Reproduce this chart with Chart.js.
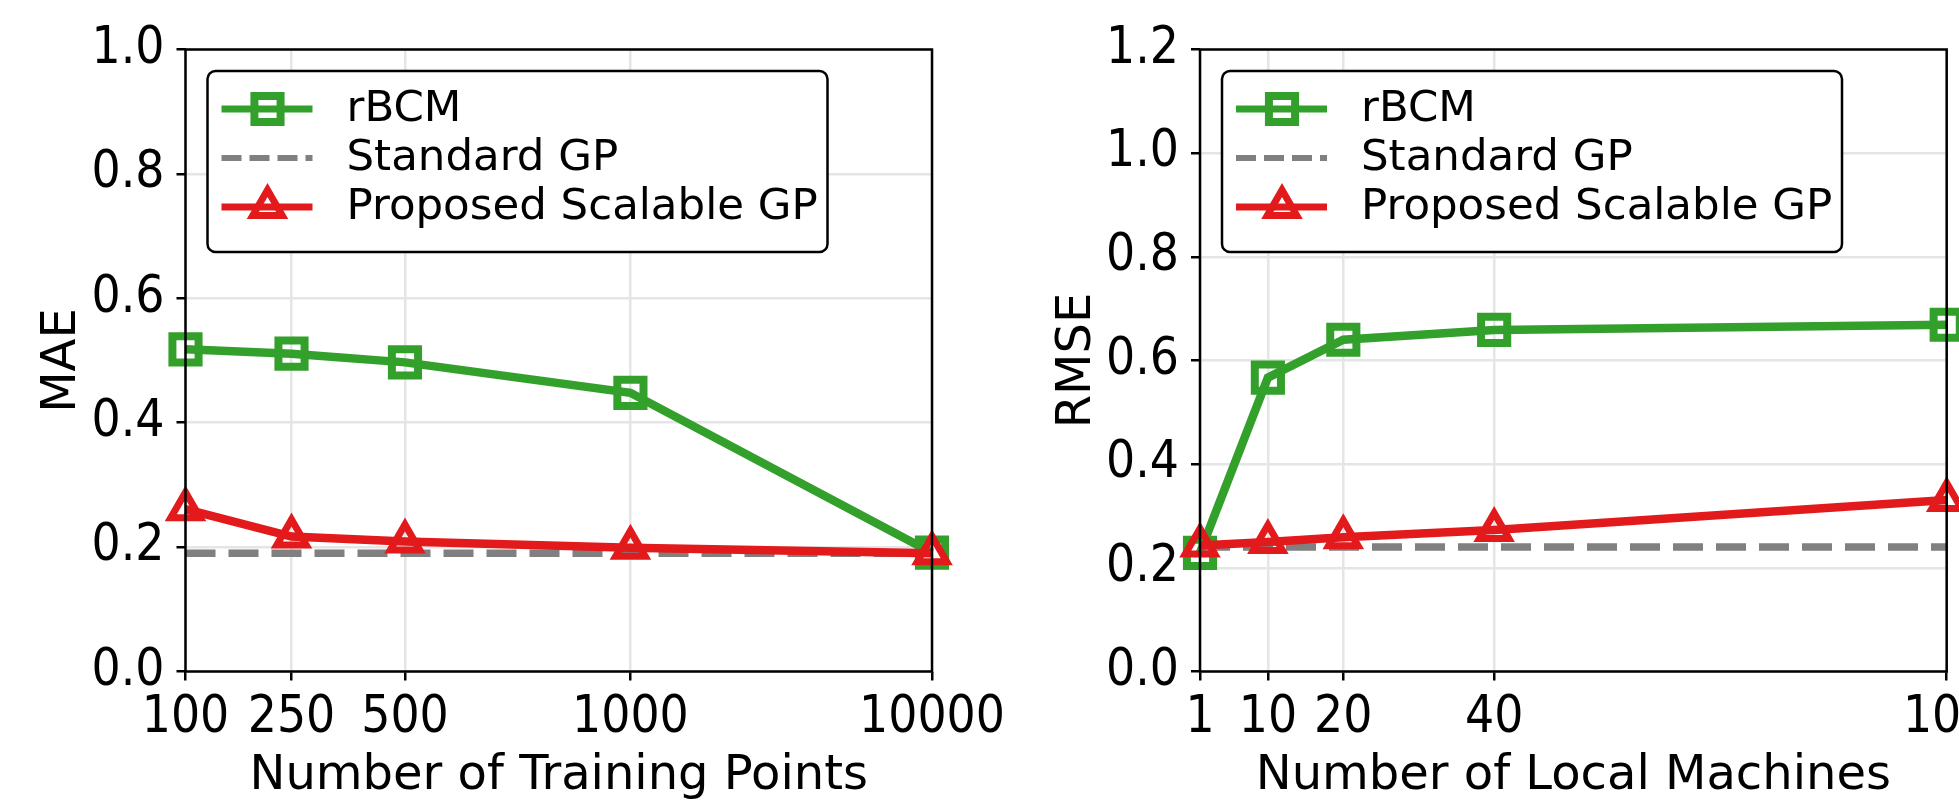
<!DOCTYPE html>
<html>
<head>
<meta charset="utf-8">
<script src="https://cdn.jsdelivr.net/npm/chart.js@4.4.0/dist/chart.umd.min.js"></script>
<style>
  html, body { margin: 0; padding: 0; background: #fff; overflow: hidden; width: 1959px; height: 810px; position: relative; }
  canvas { position: absolute; top: 0; }
  #mae { left: 0; }
  #rmse { left: 980px; }
</style>
</head>
<body>
<canvas id="mae" width="1100" height="810"></canvas>
<canvas id="rmse" width="1100" height="810"></canvas>
<script>
const seriesNames = ['rBCM', 'Standard GP', 'Proposed Scalable GP'];

// left panel: error vs training set size
const trainLabels = ['100', '250', '500', '1000', '10000'];
const trainX = [1, 1.71, 2.47, 3.98, 6];
const maeRbcm = [0.518, 0.511, 0.497, 0.448, 0.191];
const maeStandard = [0.19, 0.19, 0.19, 0.19, 0.19];
const maeProposed = [0.261, 0.217, 0.209, 0.199, 0.19];
const maeTicks = [0, 0.2, 0.4, 0.6, 0.8, 1.0];

// right panel: error vs number of machines
const machineLabels = ['1', '10', '20', '40', '100'];
const machineX = [1, 10, 20, 40, 100];
const rmseRbcm = [0.229, 0.567, 0.64, 0.659, 0.669];
const rmseStandard = [0.24, 0.24, 0.24, 0.24, 0.24];
const rmseProposed = [0.243, 0.25, 0.259, 0.273, 0.331];
const rmseTicks = [0, 0.2, 0.4, 0.6, 0.8, 1.0, 1.2];

const GREEN = '#33a02c';
const RED = '#e31a1c';
const GREY = '#808080';
const TICK_FONT = { family: "'DejaVu Sans Condensed', 'DejaVu Sans'", size: 51 };
const TITLE_FONT = { family: "'DejaVu Sans'", size: 48, lineHeight: 1.2 };

function makeDatasets(xs, a, b, c) {
    const pts = ys => ys.map((y, i) => ({ x: xs[i], y: y }));
    return [
        {
            label: seriesNames[0], data: pts(a), borderColor: GREEN, borderWidth: 8.5,
            pointStyle: 'rect', pointRadius: 18.5, pointBorderWidth: 8,
            pointBorderColor: GREEN, pointBackgroundColor: 'rgba(0,0,0,0)',
            order: 2, clip: false
        },
        {
            label: seriesNames[1], data: pts(b), borderColor: GREY, borderWidth: 7.5,
            borderDash: [30, 13], pointRadius: 0, order: 1, clip: false
        },
        {
            label: seriesNames[2], data: pts(c), borderColor: RED, borderWidth: 8.5,
            pointStyle: 'triangle', pointRadius: 17, pointBorderWidth: 7,
            pointBorderColor: RED, pointBackgroundColor: 'rgba(0,0,0,0)',
            order: 0, clip: false
        }
    ];
}

function drawMarker(ctx, style, x, y, r, lw, color) {
    ctx.save();
    ctx.strokeStyle = color;
    ctx.lineWidth = lw;
    ctx.beginPath();
    if (style === 'rect') {
        const h = r * Math.SQRT1_2;
        ctx.rect(x - h, y - h, 2 * h, 2 * h);
    } else {
        for (let k = 0; k < 3; k++) {
            const ang = k * 2 * Math.PI / 3;
            const px = x + Math.sin(ang) * r, py = y - Math.cos(ang) * r;
            if (k === 0) ctx.moveTo(px, py); else ctx.lineTo(px, py);
        }
        ctx.closePath();
    }
    ctx.stroke();
    ctx.restore();
}

// black box around the plot, drawn over the lines like matplotlib spines
const frame = {
    id: 'frame',
    afterDatasetsDraw(chart) {
        const { ctx, chartArea: a } = chart;
        ctx.save();
        ctx.strokeStyle = '#000';
        ctx.lineWidth = 2.5;
        ctx.strokeRect(a.left, a.top, a.right - a.left, a.bottom - a.top);
        ctx.restore();
    }
};

const boxLegend = {
    id: 'boxLegend',
    afterDraw(chart) {
        const { ctx, chartArea: a } = chart;
        const x0 = a.left + 22, y0 = a.top + 21.5;
        ctx.save();
        ctx.fillStyle = '#fff';
        ctx.strokeStyle = '#000';
        ctx.lineWidth = 2.5;
        ctx.beginPath();
        ctx.roundRect(x0, y0, 620, 181, 8);
        ctx.fill();
        ctx.stroke();
        ctx.font = "43.5px 'DejaVu Sans'";
        ctx.textBaseline = 'middle';
        chart.data.datasets.forEach((ds, i) => {
            const cy = y0 + 38 + i * 49;
            ctx.strokeStyle = ds.borderColor;
            ctx.lineWidth = ds.borderDash ? 6 : 7;
            ctx.setLineDash(ds.borderDash ? [20, 8] : []);
            ctx.beginPath();
            ctx.moveTo(x0 + 14, cy);
            ctx.lineTo(x0 + 105, cy);
            ctx.stroke();
            ctx.setLineDash([]);
            if (ds.pointRadius) {
                drawMarker(ctx, ds.pointStyle, x0 + 60, cy, ds.pointRadius, ds.pointBorderWidth, ds.borderColor);
            }
            ctx.fillStyle = '#000';
            ctx.fillText(ds.label, x0 + 139, cy + 1);
        });
        ctx.restore();
    }
};

function makeChart(id, opts) {
    return new Chart(document.getElementById(id), {
        type: 'line',
        data: { datasets: makeDatasets(opts.xs, opts.a, opts.b, opts.c) },
        options: {
            responsive: false,
            animation: false,
            events: [],
            layout: { padding: opts.padding },
            elements: { line: { tension: 0 } },
            plugins: { legend: { display: false }, tooltip: { enabled: false } },
            scales: {
                x: {
                    type: 'linear',
                    min: opts.xs[0],
                    max: opts.xs[opts.xs.length - 1],
                    afterBuildTicks: s => { s.ticks = opts.xs.map(v => ({ value: v })); },
                    afterFit: s => { s.height = 138.5; s.paddingLeft = 0; s.paddingRight = 0; },
                    ticks: {
                        autoSkip: false, maxRotation: 0, color: '#000', font: TICK_FONT, padding: 8,
                        callback: (v, i) => opts.labels[i]
                    },
                    grid: { color: '#e5e5e5', lineWidth: 2.5, tickColor: '#000', tickWidth: 2.5, tickLength: 9 },
                    border: { display: false },
                    title: { display: true, text: opts.xTitle, color: '#000', font: TITLE_FONT, padding: { top: 0, bottom: 5 } }
                },
                y: {
                    min: 0,
                    max: opts.yTicks[opts.yTicks.length - 1],
                    afterBuildTicks: s => { s.ticks = opts.yTicks.map(v => ({ value: v })); },
                    afterFit: s => { s.width = 185.5; s.paddingTop = 0; s.paddingBottom = 0; },
                    ticks: {
                        color: '#000', font: TICK_FONT, padding: 12,
                        callback: v => v.toFixed(1)
                    },
                    grid: { color: '#e5e5e5', lineWidth: 2.5, tickColor: '#000', tickWidth: 2.5, tickLength: 9 },
                    border: { display: false },
                    title: { display: true, text: opts.yTitle, color: '#000', font: TITLE_FONT, padding: { top: 34, bottom: 0 } }
                }
            }
        },
        plugins: [frame, boxLegend]
    });
}

makeChart('mae', {
    xs: trainX, labels: trainLabels, yTicks: maeTicks,
    a: maeRbcm, b: maeStandard, c: maeProposed,
    xTitle: 'Number of Training Points', yTitle: 'MAE',
    padding: { left: 0, right: 168, top: 49.5, bottom: 0 }
});

// this canvas runs past the window edge, so the last tick label is cut like in the original
makeChart('rmse', {
    xs: machineX, labels: machineLabels, yTicks: rmseTicks,
    a: rmseRbcm, b: rmseStandard, c: rmseProposed,
    xTitle: 'Number of Local Machines', yTitle: 'RMSE',
    padding: { left: 34.5, right: 133.3, top: 49.5, bottom: 0 }
});
</script>
</body>
</html>
